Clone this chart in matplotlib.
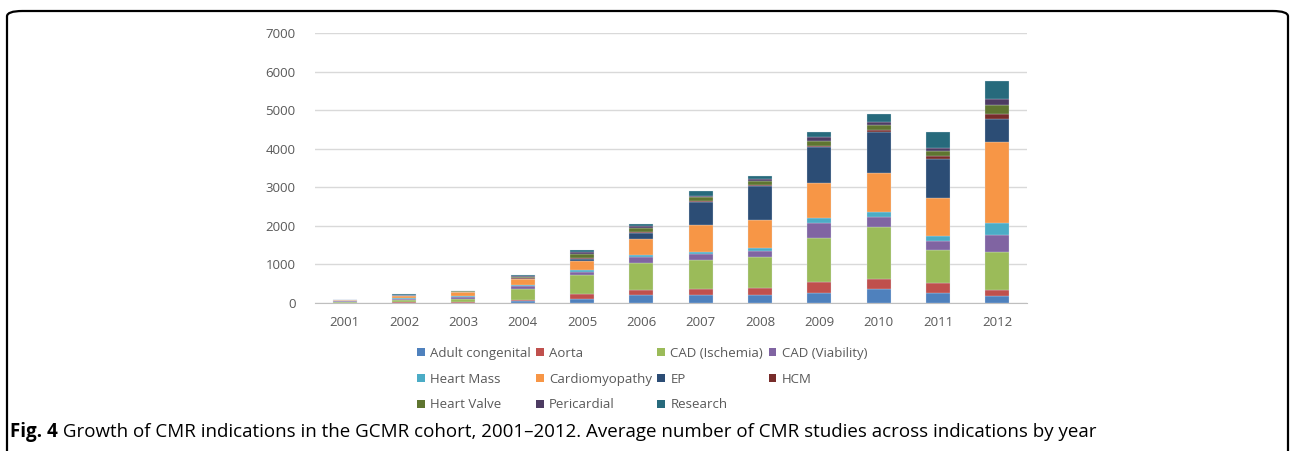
import numpy as np
import matplotlib
matplotlib.use('Agg')
import matplotlib.pyplot as plt
from matplotlib.patches import FancyBboxPatch, Patch

plt.rcParams['font.family'] = ['Open Sans', 'DejaVu Sans']

years = ['2001', '2002', '2003', '2004', '2005', '2006', '2007', '2008', '2009', '2010', '2011', '2012']
indications = ['Adult congenital', 'Aorta', 'CAD (Ischemia)', 'CAD (Viability)', 'Heart Mass', 'Cardiomyopathy',
               'EP', 'HCM', 'Heart Valve', 'Pericardial', 'Research']

adult_congenital = [4, 10, 10, 60, 104, 200, 200, 215, 267, 355, 259, 174]
aorta = [3, 10, 10, 17, 121, 129, 155, 166, 285, 267, 260, 163]
cad_ischemia = [6, 45, 90, 285, 493, 700, 752, 804, 1141, 1348, 847, 985]
cad_viability = [42, 45, 55, 70, 94, 156, 156, 171, 389, 268, 249, 449]
heart_mass = [4, 10, 10, 26, 44, 52, 67, 70, 130, 121, 130, 295]
cardiomyopathy = [8, 55, 105, 155, 241, 415, 692, 726, 891, 1004, 977, 2116]
ep = [3, 20, 10, 18, 36, 163, 604, 889, 934, 1071, 1011, 581]
hcm = [2, 5, 3, 10, 25, 15, 19, 18, 41, 44, 78, 129]
heart_valve = [2, 12, 8, 35, 104, 103, 103, 104, 122, 129, 122, 234]
pericardial = [2, 8, 5, 20, 68, 70, 34, 44, 96, 94, 78, 155]
research = [4, 22, 5, 30, 44, 44, 122, 86, 145, 191, 430, 475]

series = [adult_congenital, aorta, cad_ischemia, cad_viability, heart_mass, cardiomyopathy,
          ep, hcm, heart_valve, pericardial, research]
colors = ['#4F81BD', '#C0504D', '#9BBB59', '#8064A2', '#4BACC6', '#F79646',
          '#2C4D75', '#772C2A', '#5F7530', '#4D3B62', '#276A7C']

fig = plt.figure(figsize=(12.9, 4.51), dpi=100)
ax = fig.add_axes([315 / 1290, 1 - 303 / 451, 712 / 1290, 270 / 451])

x = np.arange(len(years))
bottom = np.zeros(len(years))
for vals, col in zip(series, colors):
    ax.bar(x, vals, width=0.4, bottom=bottom, color=col, edgecolor='#DCE4F0', linewidth=0.2, zorder=3)
    bottom = bottom + np.array(vals)

ax.set_xlim(-0.5, 11.5)
ax.set_ylim(0, 7000)
ax.set_yticks(np.arange(0, 7001, 1000))
ax.set_xticks(x)
ax.set_xticklabels(years)
ax.tick_params(axis='both', length=0, labelsize=9.5, labelcolor='#595959')
ax.tick_params(axis='x', pad=9)
ax.tick_params(axis='y', pad=14)
ax.grid(axis='y', color='#D9D9D9', linewidth=1, zorder=0)
for s in ['top', 'right', 'left']:
    ax.spines[s].set_visible(False)
ax.spines['bottom'].set_color('#BFBFBF')

# legend in row-major order like the original
handles = [Patch(facecolor=c) for c in colors]
order = [0, 4, 8, 1, 5, 9, 2, 6, 10, 3, 7]
fig.legend([handles[i] for i in order], [indications[i] for i in order], ncol=4,
           loc='upper left', bbox_to_anchor=(410 / 1290, 1 - 340 / 451), frameon=False,
           fontsize=9.5, labelcolor='#595959', handlelength=0.6, handleheight=0.6,
           handletextpad=0.4, columnspacing=0.4, labelspacing=0.98, borderpad=0)

t1 = fig.text(10 / 1290, 1 - 432 / 451, 'Fig. 4', fontsize=13.5, fontweight='bold', va='center')
ax.annotate(' Growth of CMR indications in the GCMR cohort, 2001\u20132012. Average number of CMR studies across indications by year',
            xy=(1, 0.5), xycoords=t1, va='center', ha='left', fontsize=13.5, annotation_clip=False)

frame = FancyBboxPatch((7 / 1290, -0.05), 1281 / 1290, 1 + 0.05 - 11 / 451,
                       boxstyle='round,pad=0,rounding_size=0.012', transform=fig.transFigure,
                       fill=False, edgecolor='black', linewidth=1.6)
fig.patches.append(frame)

fig.savefig('out.png', dpi=100)
